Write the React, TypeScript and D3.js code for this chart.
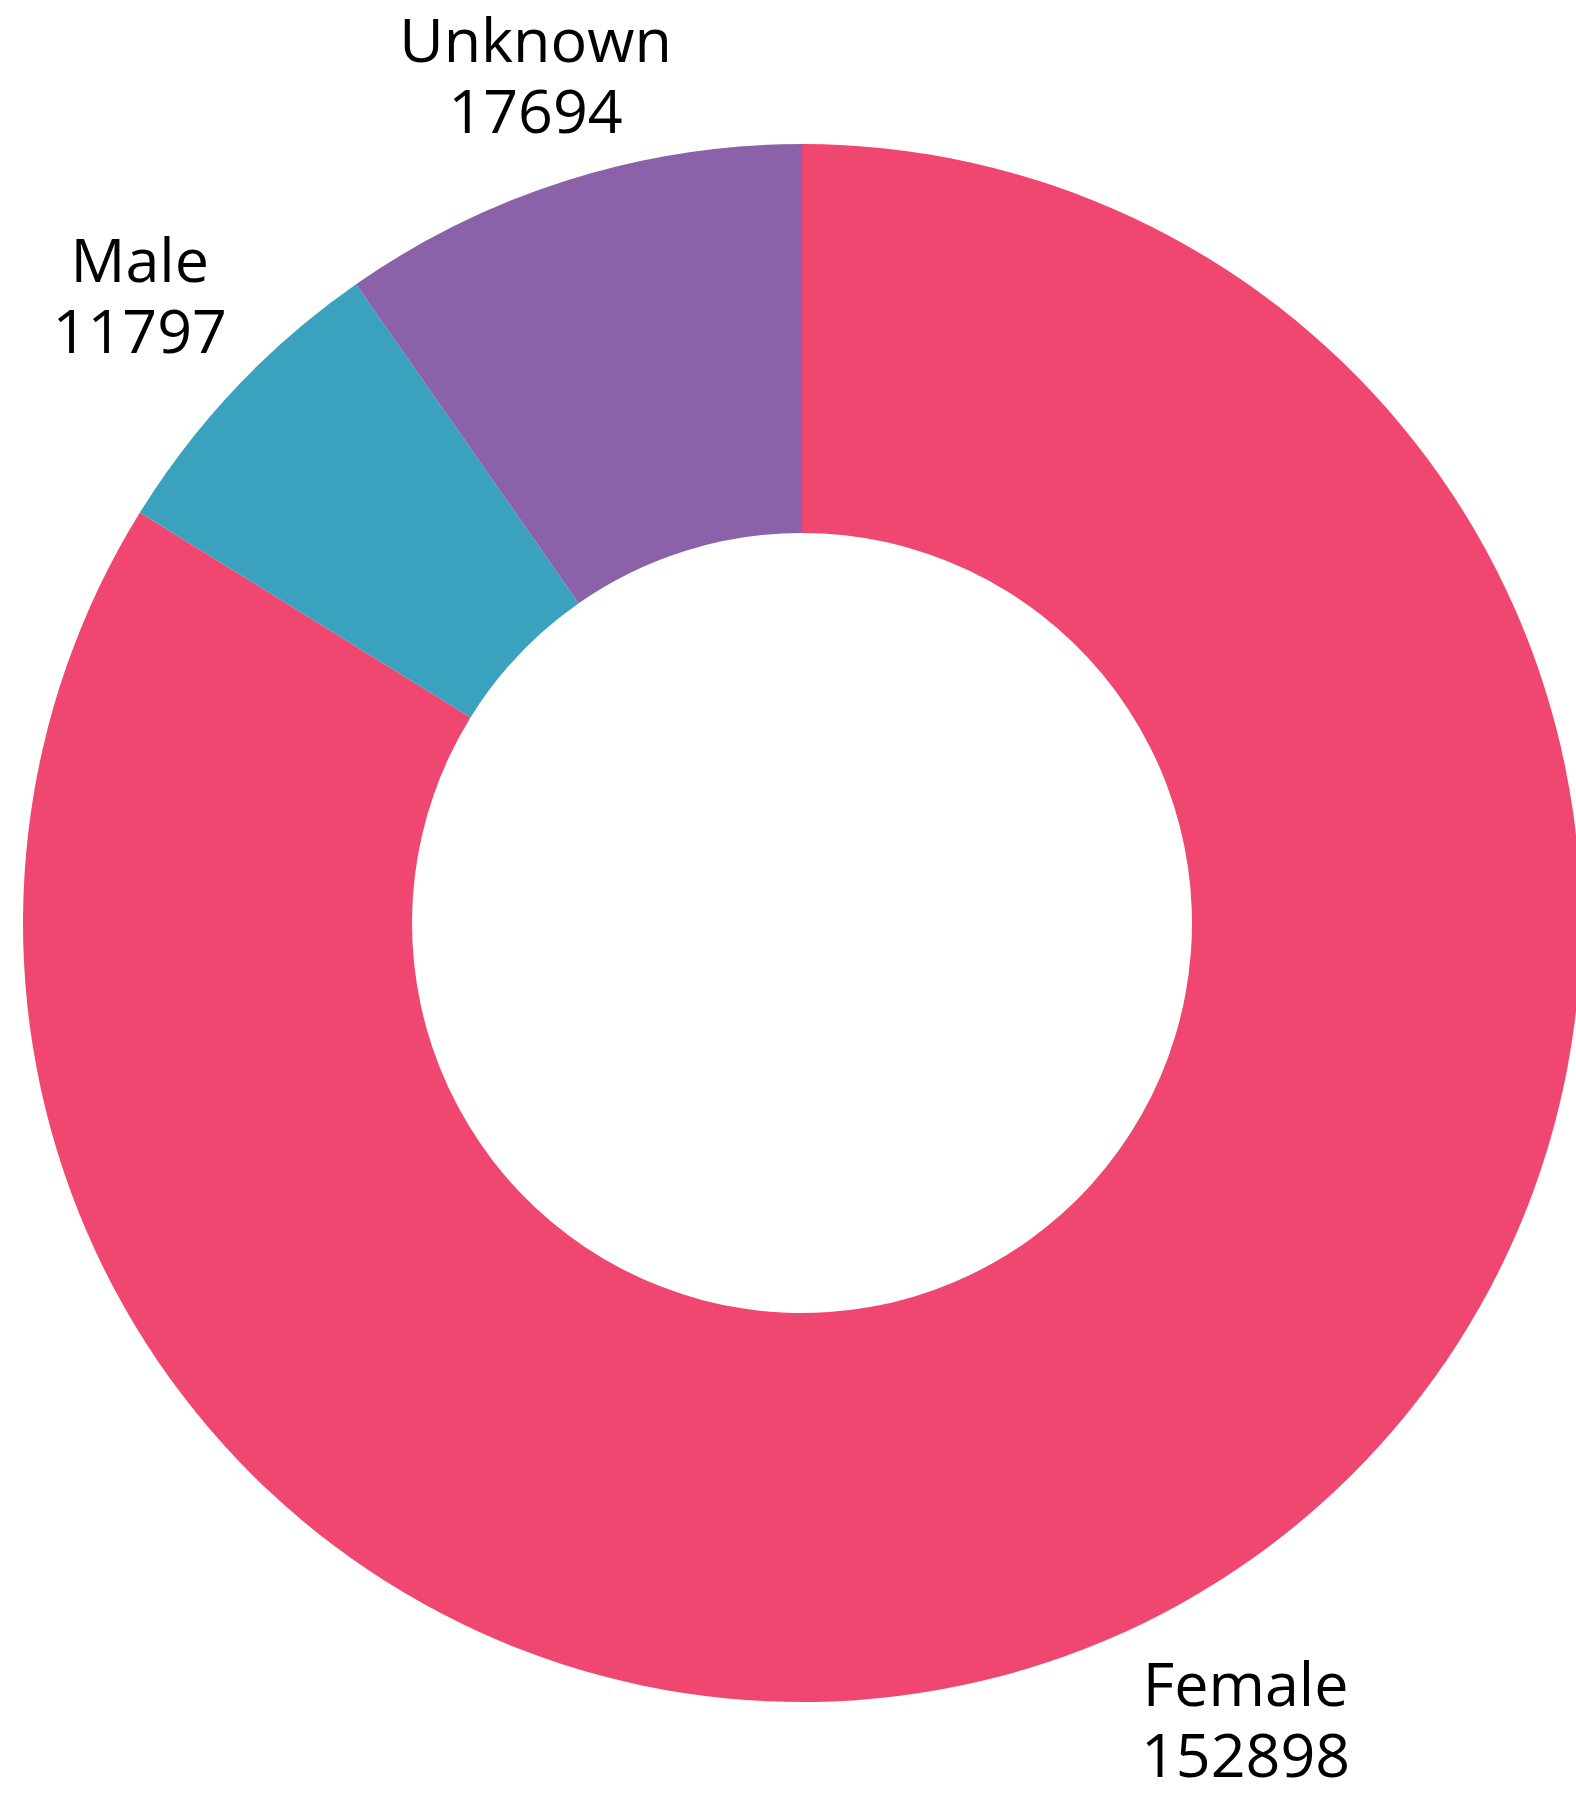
import React, { useEffect, useRef } from 'react';
import * as d3 from 'd3';

const categories = ['Female', 'Male', 'Unknown'];
const values = [152898, 11797, 17694];
const colors = ['#ef476f', '#3aa1be', '#8b62aa'];

const App = () => {
  const svgRef = useRef<SVGSVGElement>(null);

  useEffect(() => {
    const width = 1576;
    const height = 1794;
    const cx = 802;
    const cy = 923;
    const outer = 779;
    const inner = 390;
    const labelR = 912;
    const topLimit = 76;
    const fontSize = 61;

    const svg = d3.select(svgRef.current)
      .attr('width', width)
      .attr('height', height);
    svg.selectAll('*').remove();

    const data = categories.map((c, i) => ({ category: c, value: values[i], color: colors[i] }));

    const pie = d3.pie<any>()
      .value(d => d.value)
      .sort(null);

    const arc = d3.arc<any>()
      .innerRadius(inner)
      .outerRadius(outer);

    const g = svg.append('g')
      .attr('transform', `translate(${cx},${cy})`);

    const arcs = pie(data);

    g.selectAll('path.slice')
      .data(arcs)
      .enter().append('path')
      .attr('class', 'slice')
      .attr('d', arc)
      .attr('fill', d => d.data.color);

    const labels = g.selectAll('text.label')
      .data(arcs)
      .enter().append('text')
      .attr('class', 'label')
      .attr('text-anchor', 'middle')
      .attr('font-family', '"Open Sans", sans-serif')
      .attr('font-size', fontSize)
      .attr('fill', '#000')
      .attr('transform', d => {
        const a = (d.startAngle + d.endAngle) / 2;
        let r = labelR;
        // pull the label in along its ray if it would go past the top
        const minY = topLimit - cy;
        if (-Math.cos(a) * r < minY) r = minY / -Math.cos(a);
        return `translate(${Math.sin(a) * r},${-Math.cos(a) * r})`;
      });

    labels.append('tspan')
      .attr('x', 0)
      .attr('y', -14)
      .text(d => d.data.category);

    labels.append('tspan')
      .attr('x', 0)
      .attr('y', 57)
      .text(d => String(d.data.value));
  }, []);

  return (
    <svg ref={svgRef} style={{ position: 'absolute', top: 0, left: 0, background: '#fff' }}></svg>
  );
};

export default App;
